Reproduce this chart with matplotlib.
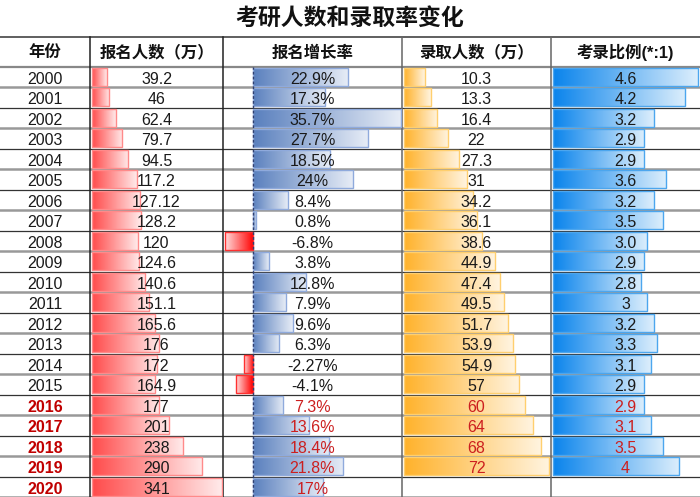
import numpy as np
import matplotlib
matplotlib.use('Agg')
import matplotlib.pyplot as plt
import matplotlib.transforms as mtransforms
from matplotlib.colors import LinearSegmentedColormap

plt.rcParams['font.family'] = ['Liberation Sans', 'Noto Sans CJK SC']

# data
years = ['2000', '2001', '2002', '2003', '2004', '2005', '2006', '2007', '2008', '2009', '2010',
         '2011', '2012', '2013', '2014', '2015', '2016', '2017', '2018', '2019', '2020']
applicants = [39.2, 46, 62.4, 79.7, 94.5, 117.2, 127.12, 128.2, 120, 124.6, 140.6,
              151.1, 165.6, 176, 172, 164.9, 177, 201, 238, 290, 341]
applicant_labels = ['39.2', '46', '62.4', '79.7', '94.5', '117.2', '127.12', '128.2', '120', '124.6', '140.6',
                    '151.1', '165.6', '176', '172', '164.9', '177', '201', '238', '290', '341']
growth = [22.9, 17.3, 35.7, 27.7, 18.5, 24, 8.4, 0.8, -6.8, 3.8, 12.8,
          7.9, 9.6, 6.3, -2.27, -4.1, 7.3, 13.6, 18.4, 21.8, 17]
growth_labels = ['22.9%', '17.3%', '35.7%', '27.7%', '18.5%', '24%', '8.4%', '0.8%', '-6.8%', '3.8%', '12.8%',
                 '7.9%', '9.6%', '6.3%', '-2.27%', '-4.1%', '7.3%', '13.6%', '18.4%', '21.8%', '17%']
admitted = [10.3, 13.3, 16.4, 22, 27.3, 31, 34.2, 36.1, 38.6, 44.9, 47.4,
            49.5, 51.7, 53.9, 54.9, 57, 60, 64, 68, 72]
admitted_labels = ['10.3', '13.3', '16.4', '22', '27.3', '31', '34.2', '36.1', '38.6', '44.9', '47.4',
                   '49.5', '51.7', '53.9', '54.9', '57', '60', '64', '68', '72']
ratio = [4.6, 4.2, 3.2, 2.9, 2.9, 3.6, 3.2, 3.5, 3.0, 2.9, 2.8,
         3, 3.2, 3.3, 3.1, 2.9, 2.9, 3.1, 3.5, 4]
ratio_labels = ['4.6', '4.2', '3.2', '2.9', '2.9', '3.6', '3.2', '3.5', '3.0', '2.9', '2.8',
                '3', '3.2', '3.3', '3.1', '2.9', '2.9', '3.1', '3.5', '4']
headers = ['年份', '报名人数（万）', '报名增长率', '录取人数（万）', '考录比例(*:1)']
title = '考研人数和录取率变化'
highlight_from = 16  # rows from 2016 on are shown in red

W, H = 700, 497
col_edges = [0, 90, 223, 402, 551, 700]
table_top, header_bottom = 37, 66.5
row_h = 20.5
n = len(years)

fig = plt.figure(figsize=(W / 100, H / 100), dpi=100)

# background axes in pixel units for the grid lines and header
bg = fig.add_axes([0, 0, 1, 1])
bg.set_xlim(0, W)
bg.set_ylim(H, 0)
bg.axis('off')

bg.text(W / 2, 18, title, ha='center', va='center', fontsize=16.5, fontweight='bold', color='#111')
bg.axhline(table_top, color='#444', lw=1.2)
bg.axhline(header_bottom, color='#888', lw=1.6)
for k in range(n):
    yl = header_bottom + row_h * (k + 1)
    if k % 2 == 0:
        bg.axhline(yl, color='#999', lw=1.8)
    else:
        bg.axhline(yl, color='#333', lw=0.9)
for i, x in enumerate(col_edges[1:-1]):
    c = '#222' if i < 2 else '#666'
    bg.plot([x, x], [table_top, H], color=c, lw=1.1)
for i, h in enumerate(headers):
    xc = (col_edges[i] + col_edges[i + 1]) / 2
    bg.text(xc, (table_top + header_bottom) / 2 + 1, h, ha='center', va='center',
            fontsize=11.8, fontweight='bold', color='#111')

red_txt = '#CC1F1F'
ty = 0.12  # small downward nudge of cell text


def col_axes(c, xlim):
    x0, x1 = col_edges[c], col_edges[c + 1]
    ax = fig.add_axes([x0 / W, 0, (x1 - x0) / W, (H - header_bottom) / H])
    ax.set_xlim(*xlim)
    ax.set_ylim(n - 0.5, -0.5)
    ax.axis('off')
    ax.patch.set_alpha(0)
    return ax


def grad_bar(ax, y, w, c_left, c_right, edge):
    b = ax.barh(y, w, height=0.88, color='none', edgecolor=edge, lw=1, zorder=3)[0]
    cmap = LinearSegmentedColormap.from_list('g', [c_left, c_right])
    lo, hi = min(0, w), max(0, w)
    im = ax.imshow(np.linspace(0, 1, 128).reshape(1, -1), cmap=cmap, aspect='auto',
                   extent=(lo, hi, y + 0.44, y - 0.44), zorder=2, interpolation='bilinear')
    im.set_clip_path(b)


def put_labels(ax, labels, size=11.5):
    tr = mtransforms.blended_transform_factory(ax.transAxes, ax.transData)
    for i, lab in enumerate(labels):
        col = red_txt if i >= highlight_from else '#1a1a1a'
        ax.text(0.5, i + ty, lab, transform=tr, ha='center', va='center',
                fontsize=size, color=col, zorder=5)


# year column
ax0 = col_axes(0, (0, 1))
tr0 = mtransforms.blended_transform_factory(ax0.transAxes, ax0.transData)
for i, yr in enumerate(years):
    if i >= highlight_from:
        ax0.text(0.5, i + ty, yr, transform=tr0, ha='center', va='center',
                 fontsize=11.5, color='#C00000', fontweight='bold')
    else:
        ax0.text(0.5, i + ty, yr, transform=tr0, ha='center', va='center',
                 fontsize=11.5, color='#1a1a1a')

# applicants
ax1 = col_axes(1, (-5, 344))
for i, v in enumerate(applicants):
    grad_bar(ax1, i, v, '#FF4B4B', '#FFEAEA', '#FF8A8A')
ax1.set_xlim(-5, 344)
ax1.set_ylim(n - 0.5, -0.5)
tr1 = mtransforms.blended_transform_factory(ax1.transAxes, ax1.transData)
for i, lab in enumerate(applicant_labels):
    ax1.text(0.5, i + ty, lab, transform=tr1, ha='center', va='center',
             fontsize=11.5, color='#1a1a1a', zorder=5)

# growth rate
ax2 = col_axes(2, (-7.24, 35.94))
for i, v in enumerate(growth):
    if v >= 0:
        grad_bar(ax2, i, v, '#5A80BE', '#E6ECF6', '#8FAADC')
    else:
        grad_bar(ax2, i, v, '#FFDCDC', '#FF0000', '#FF3030')
ax2.set_xlim(-7.24, 35.94)
ax2.set_ylim(n - 0.5, -0.5)
ax2.axvline(0, ymin=0, ymax=1, color='#2F3F6F', lw=1, ls=(0, (2, 1.5)), zorder=4)
put_labels(ax2, growth_labels)

# admitted
ax3 = col_axes(3, (-1, 72.8))
for i, v in enumerate(admitted):
    grad_bar(ax3, i, v, '#FFB22B', '#FFF4E0', '#FFCF6E')
ax3.set_xlim(-1, 72.8)
ax3.set_ylim(n - 0.5, -0.5)
put_labels(ax3, admitted_labels)

# ratio
ax4 = col_axes(4, (-0.063, 4.667))
for i, v in enumerate(ratio):
    grad_bar(ax4, i, v, '#0A84EC', '#DCEEFC', '#4CA6EE')
ax4.set_xlim(-0.063, 4.667)
ax4.set_ylim(n - 0.5, -0.5)
put_labels(ax4, ratio_labels)

fig.savefig('out.png', dpi=100)
